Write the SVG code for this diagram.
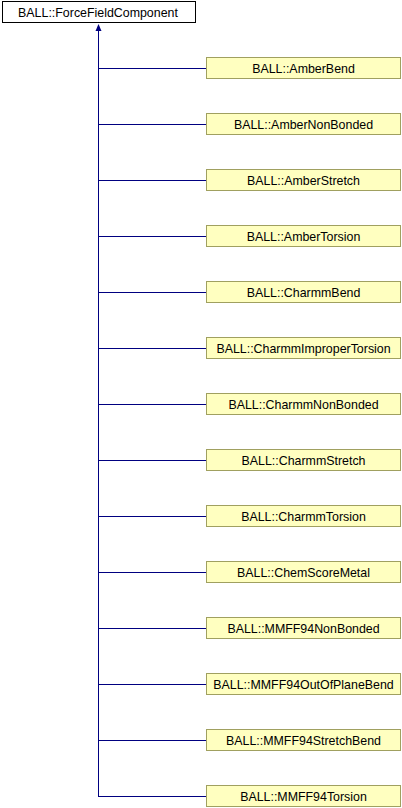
<svg xmlns="http://www.w3.org/2000/svg" width="402" height="808" viewBox="0 0 402 808">
<style>
.n rect{fill:#ffffc0;stroke:#a0a060;stroke-width:1}
.r rect{fill:#ffffff;stroke:#000000;stroke-width:1}
text{font-family:"Liberation Sans",Arial,sans-serif;font-size:12.4px;text-anchor:middle;fill:#000}
.e{stroke:#000080;stroke-width:1;fill:none}
</style>
<g id="connectors">
<path class="e" d="M98.5,28 V796.5"/>
<polygon points="98.5,24 95.5,31 101.5,31" fill="#000080"/>
<path class="e" d="M98,68.5H206 M98,124.5H206 M98,180.5H206 M98,236.5H206 M98,292.5H206 M98,348.5H206 M98,404.5H206 M98,460.5H206 M98,516.5H206 M98,572.5H206 M98,628.5H206 M98,684.5H206 M98,740.5H206 M98,796.5H206"/>
</g>
<g id="ForceFieldComponent" class="r"><rect x="2.5" y="1.5" width="193" height="21"/><text x="98" y="16.5">BALL::ForceFieldComponent</text></g>
<g id="AmberBend" class="n"><rect x="206.5" y="57.5" width="194" height="21"/><text x="303.5" y="72.5">BALL::AmberBend</text></g>
<g id="AmberNonBonded" class="n"><rect x="206.5" y="113.5" width="194" height="21"/><text x="303.5" y="128.5">BALL::AmberNonBonded</text></g>
<g id="AmberStretch" class="n"><rect x="206.5" y="169.5" width="194" height="21"/><text x="303.5" y="184.5">BALL::AmberStretch</text></g>
<g id="AmberTorsion" class="n"><rect x="206.5" y="225.5" width="194" height="21"/><text x="303.5" y="240.5">BALL::AmberTorsion</text></g>
<g id="CharmmBend" class="n"><rect x="206.5" y="281.5" width="194" height="21"/><text x="303.5" y="296.5">BALL::CharmmBend</text></g>
<g id="CharmmImproperTorsion" class="n"><rect x="206.5" y="337.5" width="194" height="21"/><text x="303.5" y="352.5">BALL::CharmmImproperTorsion</text></g>
<g id="CharmmNonBonded" class="n"><rect x="206.5" y="393.5" width="194" height="21"/><text x="303.5" y="408.5">BALL::CharmmNonBonded</text></g>
<g id="CharmmStretch" class="n"><rect x="206.5" y="449.5" width="194" height="21"/><text x="303.5" y="464.5">BALL::CharmmStretch</text></g>
<g id="CharmmTorsion" class="n"><rect x="206.5" y="505.5" width="194" height="21"/><text x="303.5" y="520.5">BALL::CharmmTorsion</text></g>
<g id="ChemScoreMetal" class="n"><rect x="206.5" y="561.5" width="194" height="21"/><text x="303.5" y="576.5">BALL::ChemScoreMetal</text></g>
<g id="MMFF94NonBonded" class="n"><rect x="206.5" y="617.5" width="194" height="21"/><text x="303.5" y="632.5">BALL::MMFF94NonBonded</text></g>
<g id="MMFF94OutOfPlaneBend" class="n"><rect x="206.5" y="673.5" width="194" height="21"/><text x="303.5" y="688.5">BALL::MMFF94OutOfPlaneBend</text></g>
<g id="MMFF94StretchBend" class="n"><rect x="206.5" y="729.5" width="194" height="21"/><text x="303.5" y="744.5">BALL::MMFF94StretchBend</text></g>
<g id="MMFF94Torsion" class="n"><rect x="206.5" y="785.5" width="194" height="21"/><text x="303.5" y="800.5">BALL::MMFF94Torsion</text></g>
</svg>
